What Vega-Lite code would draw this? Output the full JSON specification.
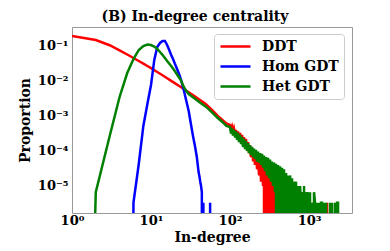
{
 "$schema": "https://vega.github.io/schema/vega-lite/v6.json",
 "width": 280, "height": 186,
 "autosize": {"type": "none"},
 "padding": {"left": 72, "top": 27, "right": 38, "bottom": 38},
 "background": "white",
 "config": {"view": {"stroke": "#999999", "strokeWidth": 1}, "font": "DejaVu Serif"},
 "title": {"text": "(B) In-degree centrality", "font": "DejaVu Serif", "fontSize": 14, "fontWeight": "bold", "color": "black", "anchor": "middle", "dx": -17, "offset": 3},
 "datasets": {
  "d": [
   {"s":"DDT","x":1,"y":0.193},{"s":"DDT","x":2,"y":0.148},{"s":"DDT","x":3,"y":0.105},{"s":"DDT","x":4,"y":0.0753},{"s":"DDT","x":5,"y":0.0571},{"s":"DDT","x":6,"y":0.0454},{"s":"DDT","x":7,"y":0.0373},{"s":"DDT","x":8,"y":0.0314},{"s":"DDT","x":9,"y":0.0268},{"s":"DDT","x":10,"y":0.0234},{"s":"DDT","x":12,"y":0.018},{"s":"DDT","x":14,"y":0.0146},{"s":"DDT","x":16,"y":0.012},{"s":"DDT","x":18,"y":0.0101},{"s":"DDT","x":20,"y":0.0087},{"s":"DDT","x":23,"y":0.0071},{"s":"DDT","x":26,"y":0.0059},{"s":"DDT","x":30,"y":0.00478},{"s":"DDT","x":35,"y":0.00378},{"s":"DDT","x":40,"y":0.00306},{"s":"DDT","x":45,"y":0.00255},{"s":"DDT","x":50,"y":0.00214},{"s":"DDT","x":60,"y":0.00144},{"s":"DDT","x":70,"y":0.00101},{"s":"DDT","x":80,"y":0.000769},{"s":"DDT","x":90,"y":0.00061},
   {"s":"DDT","x":100,"y":5.53e-4},{"s":"DDT","x":103,"y":4.1e-4},{"s":"DDT","x":106,"y":5.0e-4},{"s":"DDT","x":109,"y":3.73e-4},{"s":"DDT","x":112,"y":4.53e-4},{"s":"DDT","x":116,"y":3.07e-4},{"s":"DDT","x":119,"y":4.0e-4},{"s":"DDT","x":123,"y":2.67e-4},{"s":"DDT","x":126,"y":3.6e-4},{"s":"DDT","x":130,"y":2.27e-4},{"s":"DDT","x":134,"y":3.27e-4},{"s":"DDT","x":138,"y":2.07e-4},{"s":"DDT","x":142,"y":2.87e-4},{"s":"DDT","x":146,"y":1.7e-4},{"s":"DDT","x":150,"y":2.5e-4},{"s":"DDT","x":155,"y":1.4e-4},{"s":"DDT","x":159,"y":2.2e-4},{"s":"DDT","x":164,"y":1.13e-4},{"s":"DDT","x":169,"y":1.8e-4},{"s":"DDT","x":174,"y":8.67e-5},{"s":"DDT","x":179,"y":1.47e-4},{"s":"DDT","x":184,"y":6.67e-5},{"s":"DDT","x":190,"y":1.2e-4},{"s":"DDT","x":196,"y":5e-5},{"s":"DDT","x":201,"y":1e-4},{"s":"DDT","x":207,"y":4e-5},{"s":"DDT","x":213,"y":8.33e-5},{"s":"DDT","x":220,"y":3e-5},{"s":"DDT","x":226,"y":6.67e-5},{"s":"DDT","x":233,"y":2e-5},{"s":"DDT","x":240,"y":5.33e-5},{"s":"DDT","x":247,"y":1.33e-5},{"s":"DDT","x":254,"y":4.33e-5},{"s":"DDT","x":262,"y":1e-5},{"s":"DDT","x":269,"y":3.67e-5},{"s":"DDT","x":277,"y":1e-30},{"s":"DDT","x":286,"y":3e-5},{"s":"DDT","x":294,"y":6.67e-6},{"s":"DDT","x":303,"y":2.33e-5},{"s":"DDT","x":312,"y":1e-30},{"s":"DDT","x":321,"y":2e-5},{"s":"DDT","x":330,"y":3.33e-6},{"s":"DDT","x":340,"y":1.67e-5},{"s":"DDT","x":350,"y":1e-30},{"s":"DDT","x":361,"y":1.33e-5},{"s":"DDT","x":371,"y":1e-30},{"s":"DDT","x":382,"y":1e-5},{"s":"DDT","x":394,"y":3.33e-6},{"s":"DDT","x":405,"y":1.33e-5},{"s":"DDT","x":417,"y":1e-30},{"s":"DDT","x":430,"y":1e-5},{"s":"DDT","x":442,"y":1e-30},{"s":"DDT","x":455,"y":6.67e-6},{"s":"DDT","x":469,"y":1e-30},{"s":"DDT","x":483,"y":3.33e-6},{"s":"DDT","x":497,"y":1e-30},{"s":"DDT","x":512,"y":6.67e-6},{"s":"DDT","x":527,"y":1e-30},{"s":"DDT","x":542,"y":3.33e-6},{"s":"DDT","x":558,"y":1e-30},{"s":"DDT","x":575,"y":3.33e-6},{"s":"DDT","x":592,"y":1e-30},{"s":"DDT","x":792,"y":1e-30},{"s":"DDT","x":816,"y":6.67e-6},{"s":"DDT","x":840,"y":1e-30},{"s":"DDT","x":1092,"y":1e-30},{"s":"DDT","x":1124,"y":3.33e-6},{"s":"DDT","x":1157,"y":1e-30},{"s":"DDT","x":1643,"y":1e-30},{"s":"DDT","x":1691,"y":3.33e-6},{"s":"DDT","x":1741,"y":1e-30},
   {"s":"Hom GDT","x":5,"y":1e-30},{"s":"Hom GDT","x":6,"y":3.33e-6},{"s":"Hom GDT","x":7,"y":4.25e-5},{"s":"Hom GDT","x":8,"y":5.2e-4},{"s":"Hom GDT","x":9,"y":0.0022},{"s":"Hom GDT","x":10,"y":0.0077},{"s":"Hom GDT","x":11,"y":0.0398},{"s":"Hom GDT","x":12,"y":0.0936},{"s":"Hom GDT","x":13,"y":0.122},{"s":"Hom GDT","x":14,"y":0.139},{"s":"Hom GDT","x":15,"y":0.139},{"s":"Hom GDT","x":16,"y":0.107},{"s":"Hom GDT","x":17,"y":0.0769},{"s":"Hom GDT","x":18,"y":0.0553},{"s":"Hom GDT","x":19,"y":0.0425},{"s":"Hom GDT","x":20,"y":0.0316},{"s":"Hom GDT","x":21,"y":0.0243},{"s":"Hom GDT","x":22,"y":0.0187},{"s":"Hom GDT","x":23,"y":0.0144},{"s":"Hom GDT","x":24,"y":0.0107},{"s":"Hom GDT","x":26,"y":0.00553},{"s":"Hom GDT","x":28,"y":0.00268},{"s":"Hom GDT","x":30,"y":0.00139},{"s":"Hom GDT","x":32,"y":5.9e-4},{"s":"Hom GDT","x":34,"y":2.69e-4},{"s":"Hom GDT","x":36,"y":1.39e-4},{"s":"Hom GDT","x":38,"y":6.74e-5},{"s":"Hom GDT","x":40,"y":2.5e-5},{"s":"Hom GDT","x":41,"y":1.9e-5},{"s":"Hom GDT","x":42,"y":1.33e-5},{"s":"Hom GDT","x":43,"y":1e-5},{"s":"Hom GDT","x":44,"y":6.67e-6},{"s":"Hom GDT","x":45,"y":1e-30},{"s":"Hom GDT","x":46,"y":3.33e-6},{"s":"Hom GDT","x":47,"y":1e-30},{"s":"Hom GDT","x":55,"y":1e-30},{"s":"Hom GDT","x":56,"y":3.33e-6},{"s":"Hom GDT","x":57,"y":1e-30},
   {"s":"Het GDT","x":1,"y":1e-30},{"s":"Het GDT","x":2,"y":6.67e-6},{"s":"Het GDT","x":3,"y":2.69e-4},{"s":"Het GDT","x":4,"y":0.00349},{"s":"Het GDT","x":5,"y":0.0169},{"s":"Het GDT","x":6,"y":0.0425},{"s":"Het GDT","x":7,"y":0.0769},{"s":"Het GDT","x":8,"y":0.1},{"s":"Het GDT","x":9,"y":0.1104},{"s":"Het GDT","x":10,"y":0.1068},{"s":"Het GDT","x":11,"y":0.0968},{"s":"Het GDT","x":12,"y":0.0821},{"s":"Het GDT","x":13,"y":0.0674},{"s":"Het GDT","x":14,"y":0.0553},{"s":"Het GDT","x":15,"y":0.0454},{"s":"Het GDT","x":16,"y":0.0373},{"s":"Het GDT","x":18,"y":0.0268},{"s":"Het GDT","x":20,"y":0.0193},{"s":"Het GDT","x":22,"y":0.0139},{"s":"Het GDT","x":24,"y":0.01033},{"s":"Het GDT","x":26,"y":0.00674},{"s":"Het GDT","x":28,"y":0.00518},{"s":"Het GDT","x":30,"y":0.00425},{"s":"Het GDT","x":35,"y":0.00327},{"s":"Het GDT","x":40,"y":0.0026},{"s":"Het GDT","x":45,"y":0.00213},{"s":"Het GDT","x":50,"y":0.00181},{"s":"Het GDT","x":60,"y":0.00122},{"s":"Het GDT","x":70,"y":0.000877},{"s":"Het GDT","x":80,"y":0.000674},{"s":"Het GDT","x":90,"y":0.000518},
   {"s":"Het GDT","x":100,"y":4.83e-4},{"s":"Het GDT","x":103,"y":3.17e-4},{"s":"Het GDT","x":106,"y":4.4e-4},{"s":"Het GDT","x":109,"y":2.77e-4},{"s":"Het GDT","x":112,"y":4e-4},{"s":"Het GDT","x":116,"y":2.43e-4},{"s":"Het GDT","x":119,"y":3.6e-4},{"s":"Het GDT","x":123,"y":2.07e-4},{"s":"Het GDT","x":126,"y":3.27e-4},{"s":"Het GDT","x":130,"y":1.8e-4},{"s":"Het GDT","x":134,"y":2.87e-4},{"s":"Het GDT","x":138,"y":1.57e-4},{"s":"Het GDT","x":142,"y":2.5e-4},{"s":"Het GDT","x":146,"y":1.3e-4},{"s":"Het GDT","x":150,"y":2.2e-4},{"s":"Het GDT","x":155,"y":1.13e-4},{"s":"Het GDT","x":159,"y":1.93e-4},{"s":"Het GDT","x":164,"y":1e-4},{"s":"Het GDT","x":169,"y":1.67e-4},{"s":"Het GDT","x":174,"y":8.67e-5},{"s":"Het GDT","x":179,"y":1.47e-4},{"s":"Het GDT","x":184,"y":7.67e-5},{"s":"Het GDT","x":190,"y":1.3e-4},{"s":"Het GDT","x":196,"y":6.67e-5},{"s":"Het GDT","x":201,"y":1.17e-4},{"s":"Het GDT","x":207,"y":6e-5},{"s":"Het GDT","x":213,"y":1.07e-4},{"s":"Het GDT","x":220,"y":5e-5},{"s":"Het GDT","x":226,"y":9.67e-5},{"s":"Het GDT","x":233,"y":4.67e-5},{"s":"Het GDT","x":240,"y":8.67e-5},{"s":"Het GDT","x":247,"y":4e-5},{"s":"Het GDT","x":254,"y":8.33e-5},{"s":"Het GDT","x":262,"y":3.33e-5},{"s":"Het GDT","x":269,"y":7.33e-5},{"s":"Het GDT","x":277,"y":2.67e-5},{"s":"Het GDT","x":286,"y":6.67e-5},{"s":"Het GDT","x":294,"y":2e-5},{"s":"Het GDT","x":303,"y":6.33e-5},{"s":"Het GDT","x":312,"y":1.67e-5},{"s":"Het GDT","x":321,"y":5.67e-5},{"s":"Het GDT","x":330,"y":1.33e-5},{"s":"Het GDT","x":340,"y":5e-5},{"s":"Het GDT","x":350,"y":1e-5},{"s":"Het GDT","x":361,"y":4.67e-5},{"s":"Het GDT","x":371,"y":6.67e-6},{"s":"Het GDT","x":382,"y":4.33e-5},{"s":"Het GDT","x":394,"y":1e-30},{"s":"Het GDT","x":405,"y":4e-5},{"s":"Het GDT","x":417,"y":3.33e-6},{"s":"Het GDT","x":430,"y":3.67e-5},{"s":"Het GDT","x":442,"y":1e-30},{"s":"Het GDT","x":455,"y":3.33e-5},{"s":"Het GDT","x":469,"y":6.67e-6},{"s":"Het GDT","x":483,"y":3e-5},{"s":"Het GDT","x":497,"y":1e-30},{"s":"Het GDT","x":512,"y":2.33e-5},{"s":"Het GDT","x":527,"y":3.33e-6},{"s":"Het GDT","x":542,"y":2e-5},{"s":"Het GDT","x":558,"y":1e-30},{"s":"Het GDT","x":575,"y":2e-5},{"s":"Het GDT","x":592,"y":6.67e-6},{"s":"Het GDT","x":610,"y":1.67e-5},{"s":"Het GDT","x":628,"y":1e-30},{"s":"Het GDT","x":646,"y":1.33e-5},{"s":"Het GDT","x":665,"y":3.33e-6},{"s":"Het GDT","x":685,"y":1.33e-5},{"s":"Het GDT","x":705,"y":1e-30},{"s":"Het GDT","x":726,"y":1e-5},{"s":"Het GDT","x":747,"y":1e-30},{"s":"Het GDT","x":770,"y":1e-5},{"s":"Het GDT","x":792,"y":3.33e-6},{"s":"Het GDT","x":816,"y":6.67e-6},{"s":"Het GDT","x":840,"y":1e-30},{"s":"Het GDT","x":865,"y":1e-5},{"s":"Het GDT","x":890,"y":1e-30},{"s":"Het GDT","x":917,"y":6.67e-6},{"s":"Het GDT","x":944,"y":3.33e-6},{"s":"Het GDT","x":972,"y":6.67e-6},{"s":"Het GDT","x":1000,"y":1e-30},{"s":"Het GDT","x":1030,"y":6.67e-6},{"s":"Het GDT","x":1061,"y":1e-30},{"s":"Het GDT","x":1092,"y":3.33e-6},{"s":"Het GDT","x":1124,"y":1e-30},{"s":"Het GDT","x":1157,"y":6.67e-6},{"s":"Het GDT","x":1192,"y":3.33e-6},{"s":"Het GDT","x":1227,"y":1e-30},{"s":"Het GDT","x":1263,"y":3.33e-6},{"s":"Het GDT","x":1301,"y":1e-30},{"s":"Het GDT","x":1339,"y":3.33e-6},{"s":"Het GDT","x":1379,"y":1e-30},{"s":"Het GDT","x":1420,"y":3.33e-6},{"s":"Het GDT","x":1462,"y":3.33e-6},{"s":"Het GDT","x":1505,"y":1e-30},{"s":"Het GDT","x":1549,"y":3.33e-6},{"s":"Het GDT","x":1595,"y":1e-30},{"s":"Het GDT","x":1643,"y":3.33e-6},{"s":"Het GDT","x":1691,"y":1e-30},{"s":"Het GDT","x":1741,"y":1e-30},{"s":"Het GDT","x":1793,"y":1e-30},{"s":"Het GDT","x":1846,"y":3.33e-6},{"s":"Het GDT","x":1900,"y":1e-30},{"s":"Het GDT","x":1957,"y":3.33e-6},{"s":"Het GDT","x":2014,"y":1e-30},{"s":"Het GDT","x":2074,"y":1e-30},{"s":"Het GDT","x":2135,"y":3.33e-6},{"s":"Het GDT","x":2199,"y":1e-30},{"s":"Het GDT","x":2264,"y":3.33e-6},{"s":"Het GDT","x":2331,"y":3.33e-6},{"s":"Het GDT","x":2400,"y":1e-30}
  ]
 },
 "data": {"name": "d"},
 "encoding": {
  "x": {"field": "x", "type": "quantitative",
   "scale": {"type": "log", "domain": [1, 3500], "nice": false},
   "axis": {"values": [1, 10, 100, 1000], "labelExpr": "datum.value < 5 ? '10⁰' : datum.value < 50 ? '10¹' : datum.value < 500 ? '10²' : '10³'",
    "title": "In-degree", "grid": false, "domain": false, "ticks": false, "labelOverlap": false, "labelFlush": false,
    "labelFont": "DejaVu Serif", "labelFontSize": 13, "labelFontWeight": "bold", "labelColor": "black", "labelPadding": 1,
    "titleFont": "DejaVu Serif", "titleFontSize": 14, "titleFontWeight": "bold", "titleColor": "black", "titleY": 28, "titleBaseline": "alphabetic"}},
  "y": {"field": "y", "type": "quantitative",
   "scale": {"type": "log", "domain": [1.69e-6, 0.349], "nice": false},
   "axis": {"values": [1e-5, 1e-4, 1e-3, 1e-2, 1e-1], "labelExpr": "datum.value >= 0.05 ? '10⁻¹' : datum.value >= 0.005 ? '10⁻²' : datum.value >= 0.0005 ? '10⁻³' : datum.value >= 0.00005 ? '10⁻⁴' : '10⁻⁵'",
    "title": "Proportion", "grid": false, "domain": false, "ticks": false, "labelOverlap": false, "labelFlush": false,
    "labelFont": "DejaVu Serif", "labelFontSize": 13, "labelFontWeight": "bold", "labelColor": "black", "labelPadding": 4,
    "titleFont": "DejaVu Serif", "titleFontSize": 14, "titleFontWeight": "bold", "titleColor": "black", "titleX": -43, "titleY": 93, "titleAngle": 270, "titleAlign": "center", "titleBaseline": "alphabetic"}},
  "color": {"field": "s", "type": "nominal",
   "scale": {"domain": ["DDT", "Hom GDT", "Het GDT"], "range": ["#ff0000", "#0000ff", "#008000"]},
   "legend": {"orient": "none", "legendX": 142, "legendY": 7, "title": null, "symbolType": "stroke", "symbolSize": 900, "symbolStrokeWidth": 2.5, "clipHeight": 15,
    "labelFont": "DejaVu Serif", "labelFontSize": 14, "labelFontWeight": "bold", "labelColor": "black", "labelOffset": 10,
    "padding": 5, "strokeColor": "#cccccc", "fillColor": "white", "cornerRadius": 3, "rowPadding": 5}}
 },
 "layer": [
  {"transform": [{"filter": "datum.s === 'DDT'"}], "mark": {"type": "line", "clip": true, "strokeWidth": 2.5}},
  {"transform": [{"filter": "datum.s === 'Hom GDT'"}], "mark": {"type": "line", "clip": true, "strokeWidth": 2.5}},
  {"transform": [{"filter": "datum.s === 'Het GDT'"}], "mark": {"type": "line", "clip": true, "strokeWidth": 2.5}}
 ]
}
